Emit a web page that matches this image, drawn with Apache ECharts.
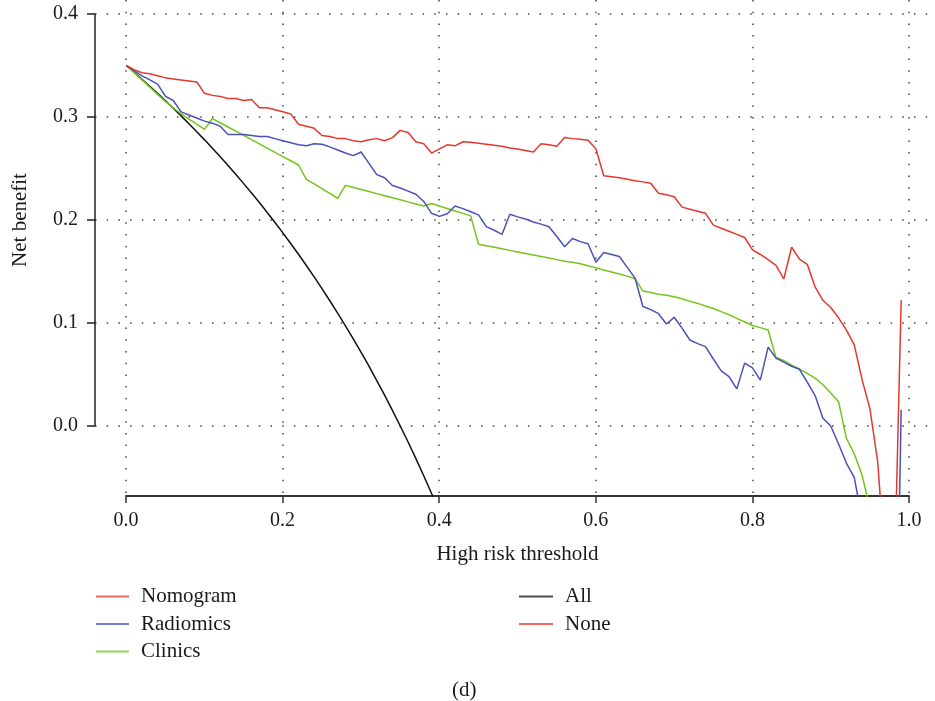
<!DOCTYPE html>
<html>
<head>
<meta charset="utf-8">
<script src="https://cdn.jsdelivr.net/npm/echarts@6/dist/echarts.min.js"></script>
<style>
html,body{margin:0;padding:0;background:#fff;}
#chart{width:935px;height:701px;}
</style>
</head>
<body>
<div id="chart"></div>
<script>
const thresholds = [0.00,0.01,0.02,0.03,0.04,0.05,0.06,0.07,0.08,0.09,
0.10,0.11,0.12,0.13,0.14,0.15,0.16,0.17,0.18,0.19,
0.20,0.21,0.22,0.23,0.24,0.25,0.26,0.27,0.28,0.29,
0.30,0.31,0.32,0.33,0.34,0.35,0.36,0.37,0.38,0.39,
0.40,0.41,0.42,0.43,0.44,0.45,0.46,0.47,0.48,0.49,
0.50,0.51,0.52,0.53,0.54,0.55,0.56,0.57,0.58,0.59,
0.60,0.61,0.62,0.63,0.64,0.65,0.66,0.67,0.68,0.69,
0.70,0.71,0.72,0.73,0.74,0.75,0.76,0.77,0.78,0.79,
0.80,0.81,0.82,0.83,0.84,0.85,0.86,0.87,0.88,0.89,
0.90,0.91,0.92,0.93,0.94,0.95,0.96,0.97,0.98,0.99];

const nomogram = [0.350,0.346,0.343,0.342,0.340,0.338,0.337,0.336,0.335,0.334,
0.323,0.321,0.320,0.318,0.318,0.316,0.317,0.309,0.309,0.307,
0.305,0.303,0.293,0.291,0.289,0.282,0.281,0.279,0.279,0.277,
0.276,0.278,0.279,0.277,0.280,0.287,0.285,0.276,0.274,0.265,
0.269,0.273,0.272,0.276,0.2755,0.2745,0.2735,0.2725,0.2715,0.270,
0.269,0.2675,0.266,0.274,0.273,0.2715,0.280,0.279,0.2785,0.2775,
0.269,0.243,0.242,0.241,0.2395,0.238,0.237,0.2356,0.226,0.2245,
0.2225,0.2125,0.2105,0.2085,0.2065,0.195,0.192,0.189,0.186,0.183,
0.171,0.1665,0.1615,0.156,0.1427,0.1735,0.162,0.157,0.135,0.122,
0.115,0.105,0.093,0.079,0.045,0.017,-0.035,-0.14,-0.19,0.122];

const radiomics = [0.350,0.345,0.340,0.336,0.332,0.320,0.316,0.305,0.302,0.299,
0.296,0.294,0.291,0.283,0.283,0.283,0.282,0.281,0.281,0.279,
0.277,0.275,0.273,0.272,0.274,0.2735,0.271,0.268,0.265,0.2625,
0.266,0.255,0.244,0.241,0.2335,0.231,0.228,0.225,0.218,0.2065,
0.2035,0.206,0.2135,0.211,0.208,0.205,0.1935,0.190,0.186,0.2055,
0.203,0.201,0.198,0.196,0.1935,0.184,0.174,0.182,0.179,0.177,
0.159,0.1685,0.1665,0.1645,0.154,0.1435,0.116,0.113,0.109,0.099,
0.1055,0.095,0.0835,0.080,0.077,0.065,0.0535,0.048,0.036,0.061,
0.0565,0.0445,0.0765,0.066,0.062,0.058,0.055,0.0425,0.0295,0.0075,
0.000,-0.0175,-0.036,-0.050,-0.09,-0.15,-0.22,-0.30,-0.40,0.0155];

const clinics = [0.350,0.343,0.336,0.329,0.322,0.315,0.309,0.303,0.298,0.293,
0.288,0.2985,0.2944,0.2903,0.2862,0.2821,0.2780,0.2739,0.2698,0.2657,
0.2616,0.2575,0.2534,0.2395,0.235,0.2305,0.2258,0.221,0.2336,0.2316,
0.2296,0.2276,0.2256,0.2236,0.2216,0.2196,0.2176,0.2156,0.2136,0.216,
0.2136,0.2112,0.2088,0.2064,0.204,0.1765,0.175,0.1735,0.172,0.1705,
0.169,0.1675,0.166,0.1645,0.163,0.1615,0.160,0.159,0.1575,0.1555,
0.1535,0.1515,0.1495,0.1475,0.1455,0.143,0.131,0.1295,0.128,0.127,
0.1255,0.1235,0.121,0.119,0.1165,0.114,0.111,0.108,0.1045,0.101,
0.0975,0.0955,0.0932,0.0665,0.0635,0.059,0.0555,0.051,0.0465,0.040,
0.032,0.0235,-0.012,-0.027,-0.0475,-0.08,-0.12,-0.20,-0.30,-0.50];

const treatAll = [0.350,0.3434,0.3367,0.3299,0.3229,0.3158,0.3085,0.3011,0.2935,0.2857,
0.2778,0.2697,0.2614,0.2529,0.2442,0.2353,0.2262,0.2169,0.2073,0.1975,
0.1875,0.1772,0.1667,0.1558,0.1447,0.1333,0.1216,0.1096,0.0972,0.0845,
0.0714,0.0580,0.0441,0.0299,0.0152,0.0,-0.0156,-0.0317,-0.0484,-0.0656,
-0.0833];

const treatNone = [];

const xTicks = [0.0,0.2,0.4,0.6,0.8,1.0];
const yTicks = [0.0,0.1,0.2,0.3,0.4];

const seriesNames = ['Nomogram','Radiomics','Clinics','All','None'];
const colors = {Nomogram:'#e5382c', Radiomics:'#4a52b6', Clinics:'#74c51a', All:'#111111', None:'#e5382c'};

function pairs(vals){ return vals.map((v,i)=>[thresholds[i], v]); }

const FONT = 'Liberation Serif';
const TXT = '#1a1a1a';
const dotted = {color:'#444', width:1.5, type:[1.5,10.2]};

const chart = echarts.init(document.getElementById('chart'), null, {renderer:'canvas'});
chart.setOption({
  animation:false,
  backgroundColor:'#ffffff',
  grid:[
    {left:95, right:0, top:0, bottom:205},
    {left:126, width:783, top:0, bottom:205},
    {left:95, right:0, top:14, height:412}
  ],
  xAxis:[
    {gridIndex:0, type:'value', min:-0.04, max:1.0332, show:false},
    {gridIndex:1, type:'value', min:xTicks[0], max:xTicks[xTicks.length-1], interval:0.2, position:'bottom',
     axisLine:{show:true, onZero:false, lineStyle:{color:'#333', width:1.8}},
     axisTick:{show:true, length:7, lineStyle:{color:'#333', width:1.5}},
     axisLabel:{show:true, margin:15, fontFamily:FONT, fontSize:20, color:TXT, formatter:v=>v.toFixed(1)},
     splitLine:{show:true, lineStyle:dotted},
     name:'High risk threshold', nameLocation:'middle', nameGap:48,
     nameTextStyle:{fontFamily:FONT, fontSize:21, color:TXT}},
    {gridIndex:2, type:'value', min:0, max:1, show:false}
  ],
  yAxis:[
    {gridIndex:0, type:'value', min:-0.068, max:0.4136, show:false},
    {gridIndex:1, type:'value', min:0, max:1, show:false},
    {gridIndex:2, type:'value', min:yTicks[0], max:yTicks[yTicks.length-1], interval:0.1, position:'left',
     axisLine:{show:true, onZero:false, lineStyle:{color:'#222', width:1.5}},
     axisTick:{show:true, length:8, lineStyle:{color:'#222', width:1.5}},
     axisLabel:{show:true, margin:17, fontFamily:FONT, fontSize:20, color:TXT, formatter:v=>v.toFixed(1)},
     splitLine:{show:true, lineStyle:dotted},
     name:'Net benefit', nameLocation:'middle', nameGap:64, nameRotate:90,
     nameTextStyle:{fontFamily:FONT, fontSize:21, color:TXT}}
  ],
  legend:[
    {data:['Nomogram','Radiomics','Clinics'], orient:'vertical', left:96, top:586, padding:0,
     icon:'rect', itemWidth:33, itemHeight:2, itemGap:6.5, selectedMode:false,
     itemStyle:{opacity:0.75},
     textStyle:{fontFamily:FONT, fontSize:21, color:TXT, padding:[0,0,0,7]}},
    {data:['All','None'], orient:'vertical', left:519, top:586, padding:0,
     icon:'rect', itemWidth:34, itemHeight:2, itemGap:6.5, selectedMode:false,
     itemStyle:{opacity:0.75},
     textStyle:{fontFamily:FONT, fontSize:21, color:TXT, padding:[0,0,0,7]}}
  ],
  graphic:[
    {type:'text', left:452, top:680, style:{text:'(d)', font:'21px "Liberation Serif"', fill:TXT}}
  ],
  series:[
    {name:'Nomogram', type:'line', xAxisIndex:0, yAxisIndex:0, data:pairs(nomogram), symbol:'none', color:colors.Nomogram, lineStyle:{width:1.5}, z:5},
    {name:'Radiomics', type:'line', xAxisIndex:0, yAxisIndex:0, data:pairs(radiomics), symbol:'none', color:colors.Radiomics, lineStyle:{width:1.5}, z:4},
    {name:'Clinics', type:'line', xAxisIndex:0, yAxisIndex:0, data:pairs(clinics), symbol:'none', color:colors.Clinics, lineStyle:{width:1.5}, z:3},
    {name:'All', type:'line', xAxisIndex:0, yAxisIndex:0, data:pairs(treatAll), symbol:'none', color:colors.All, lineStyle:{width:1.5}, z:2},
    {name:'None', type:'line', xAxisIndex:0, yAxisIndex:0, data:pairs(treatNone), symbol:'none', color:colors.None, lineStyle:{width:1.5}, z:2}
  ]
});
</script>
</body>
</html>
